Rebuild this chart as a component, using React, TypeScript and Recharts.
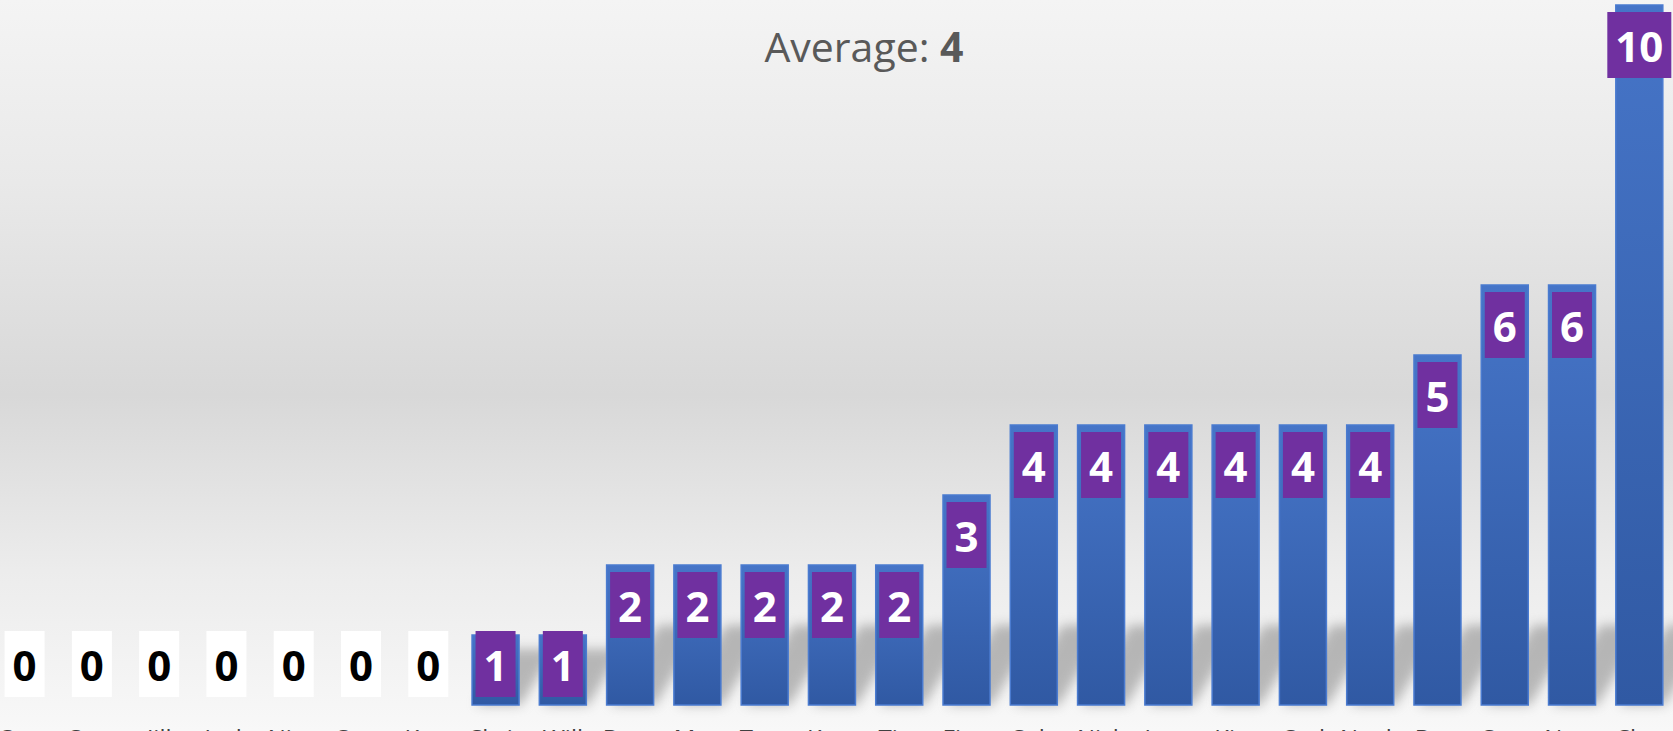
import React from "react";
import { BarChart, Bar, XAxis, YAxis } from "recharts";

const names = [
  "Sam", "Cara", "Jill", "Jack", "Nina", "Sara", "Kurt", "Chris", "Will", "Dora",
  "Max", "Tom", "Kate", "Tim", "Finn", "Cole", "Nick", "Jane", "Kim", "Carl",
  "Noah", "Dan", "Cass", "Nora", "Cleo",
];
const scores = [0, 0, 0, 0, 0, 0, 0, 1, 1, 2, 2, 2, 2, 2, 3, 4, 4, 4, 4, 4, 4, 5, 6, 6, 10];
const titleLabel = "Average: ";
const titleValue = "4";

const data = names.map((n, i) => ({ name: n, value: scores[i] }));

const W = 1673;
const H = 731;

const BarShape = (props: any) => {
  const { x, y, width, height, value } = props;
  const bottom = y + height;
  const text = String(value);
  const boxW = text.length * 24 + 16;
  const boxH = 66;
  const boxTop = Math.min(y + 7, bottom - 74);
  const cx = x + width / 2;
  const hs = Math.min(height, 100) * 0.8;
  const zero = value === 0;
  return (
    <g>
      <defs>
        <linearGradient id="barGrad" x1="0" y1="0" x2="0" y2="1">
          <stop offset="0%" stopColor="#4675C8" />
          <stop offset="100%" stopColor="#3059A3" />
        </linearGradient>
        <filter id="shadowBlur" x="-50%" y="-50%" width="200%" height="200%">
          <feGaussianBlur stdDeviation="6" />
        </filter>
      </defs>
      {height > 0 && (
        <polygon
          points={`${x + 4},${bottom} ${x + width + 2},${bottom} ${x + width + 2 + hs * 0.6},${bottom - hs} ${x + 4 + hs * 0.6},${bottom - hs}`}
          fill="#7a7a7a"
          opacity={0.5}
          filter="url(#shadowBlur)"
        />
      )}
      {height > 0 && (
        <rect
          x={x}
          y={y}
          width={width}
          height={height}
          fill="url(#barGrad)"
          stroke="#4A7BD0"
          strokeWidth={1.5}
        />
      )}
      <rect
        x={cx - boxW / 2}
        y={boxTop}
        width={boxW}
        height={boxH}
        fill={zero ? "#ffffff" : "#7030A0"}
      />
      <text
        x={cx}
        y={boxTop + boxH / 2}
        textAnchor="middle"
        dominantBaseline="central"
        fontFamily="'Open Sans', sans-serif"
        fontWeight={700}
        fontSize={42}
        fill={zero ? "#000000" : "#ffffff"}
      >
        {text}
      </text>
    </g>
  );
};

const Tick = (props: any) => {
  const { x, y, payload } = props;
  return (
    <text
      x={x}
      y={y}
      textAnchor="middle"
      dominantBaseline="hanging"
      fontFamily="'Open Sans', sans-serif"
      fontSize={24}
      fill="#404040"
    >
      {payload.value}
    </text>
  );
};

export default function App() {
  return (
    <div
      style={{
        position: "fixed",
        left: 0,
        top: 0,
        width: W,
        height: H,
        overflow: "hidden",
        background:
          "linear-gradient(to bottom, #f4f4f4 0%, #e9e9e9 25%, #d8d8d8 54%, #ececec 78%, #f8f8f8 100%)",
      }}
    >
      <div
        style={{
          position: "absolute",
          left: 0,
          width: 1728,
          top: 19,
          textAlign: "center",
          fontFamily: "'Open Sans', sans-serif",
          fontSize: 41,
          color: "#595959",
          lineHeight: "54px",
        }}
      >
        {titleLabel}
        <b>{titleValue}</b>
      </div>
      <BarChart
        width={W}
        height={H}
        data={data}
        margin={{ top: 5, right: 0, left: -9, bottom: 0 }}
        barCategoryGap="15%"
        style={{ position: "absolute", left: 0, top: 0 }}
      >
        <XAxis
          dataKey="name"
          height={26}
          axisLine={false}
          tickLine={false}
          tickSize={0}
          tickMargin={21}
          interval={0}
          tick={<Tick />}
        />
        <YAxis hide domain={[0, 10]} />
        <Bar dataKey="value" isAnimationActive={false} shape={<BarShape />} />
      </BarChart>
    </div>
  );
}
